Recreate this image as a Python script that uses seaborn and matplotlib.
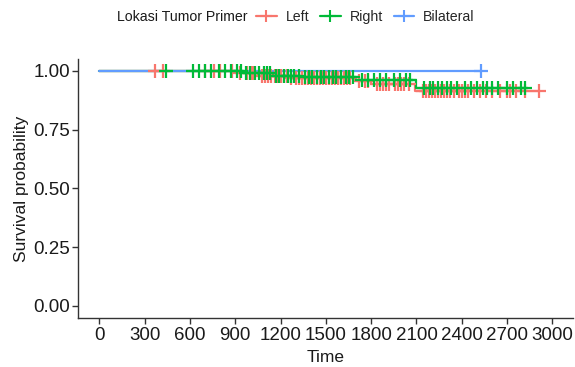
import numpy as np
import pandas as pd
import matplotlib
matplotlib.use("Agg")
import matplotlib.pyplot as plt
from matplotlib.lines import Line2D
import seaborn as sns

# ---- data ----
groups = ["Left", "Right", "Bilateral"]
colors = ["#F8766D", "#00BA38", "#619CFF"]

left_event_times = [900, 1050, 1250, 1690, 1800, 2090]
left_surv = [0.99, 0.98, 0.97, 0.955, 0.945, 0.913]
left_censor = [370, 420, 700, 760, 800, 880, 930, 980, 1010, 1020, 1080, 1100,
               1120, 1140, 1160, 1180, 1200, 1220, 1240, 1270, 1300, 1320, 1340,
               1360, 1380, 1400, 1420, 1440, 1460, 1480, 1500, 1520, 1540, 1560,
               1580, 1600, 1620, 1640, 1660, 1720, 1760, 1780, 1840, 1860, 1880,
               1900, 1920, 1960, 1980, 2000, 2020, 2050, 2140, 2160, 2180, 2200,
               2220, 2240, 2260, 2280, 2300, 2320, 2350, 2380, 2400, 2420, 2440,
               2480, 2520, 2560, 2600, 2650, 2700, 2720, 2760, 2820, 2910]

right_event_times = [950, 1150, 1350, 1720, 2095]
right_surv = [0.99, 0.98, 0.974, 0.96, 0.928]
right_censor = [440, 620, 660, 700, 740, 790, 830, 870, 910, 940, 970, 1000, 1030,
                1060, 1090, 1110, 1130, 1170, 1190, 1220, 1250, 1270, 1290, 1320,
                1360, 1390, 1410, 1440, 1470, 1490, 1520, 1550, 1570, 1600, 1630,
                1650, 1680, 1740, 1780, 1820, 1860, 1900, 1950, 1990, 2030, 2060,
                2150, 2190, 2210, 2240, 2270, 2300, 2330, 2370, 2420, 2460, 2500,
                2540, 2570, 2600, 2640, 2700, 2740, 2790, 2820]

bilateral_event_times = []
bilateral_surv = []
bilateral_censor = [2530]

x_ticks = [0, 300, 600, 900, 1200, 1500, 1800, 2100, 2400, 2700, 3000]
y_ticks = [0.00, 0.25, 0.50, 0.75, 1.00]
legend_title = "Lokasi Tumor Primer"

# ---- build tables ----
series = {
    "Left": (left_event_times, left_surv, left_censor),
    "Right": (right_event_times, right_surv, right_censor),
    "Bilateral": (bilateral_event_times, bilateral_surv, bilateral_censor),
}

def surv_at(t, ev, sv):
    s = 1.0
    for te, v in zip(ev, sv):
        if te <= t:
            s = v
    return s

step_rows = []
cens_rows = []
for g in groups:
    ev, sv, cs = series[g]
    tmax = max(cs + ev)
    step_rows.append((g, 0.0, 1.0))
    for te, v in zip(ev, sv):
        step_rows.append((g, te, v))
    step_rows.append((g, tmax, surv_at(tmax, ev, sv)))
    for c in cs:
        cens_rows.append((g, c, surv_at(c, ev, sv)))

steps = pd.DataFrame(step_rows, columns=["group", "time", "surv"])
cens = pd.DataFrame(cens_rows, columns=["group", "time", "surv"])

# ---- plot ----
sns.set_theme(style="ticks")
plt.rcParams["font.family"] = ["Liberation Sans", "DejaVu Sans"]

fig = plt.figure(figsize=(5.75, 3.67), dpi=100)
ax = fig.add_axes([0.1357, 0.1343, 0.861, 0.7047])
pal = dict(zip(groups, colors))

for g in groups:
    d = steps[steps.group == g]
    sns.lineplot(data=d, x="time", y="surv", ax=ax, color=pal[g],
                 drawstyle="steps-post", estimator=None, sort=False,
                 linewidth=1.6, legend=False)
for g in groups:
    d = cens[cens.group == g]
    sns.scatterplot(data=d, x="time", y="surv", ax=ax, color=pal[g],
                    marker="+", s=95, linewidth=1.6, legend=False, zorder=3)

ax.set_xlim(-141, 3137)
ax.set_ylim(-0.05, 1.05)
ax.set_xticks(x_ticks)
ax.set_xticklabels([str(t) for t in x_ticks])
ax.set_yticks(y_ticks)
ax.set_yticklabels([f"{v:.2f}" for v in y_ticks])
ax.tick_params(axis="both", labelsize=13.5, colors="#333333", labelcolor="#1a1a1a",
               length=4, width=1, direction="out")
ax.tick_params(axis="y", pad=1.5)
ax.tick_params(axis="x", pad=3)
for side in ["top", "right"]:
    ax.spines[side].set_visible(False)
for side in ["left", "bottom"]:
    ax.spines[side].set_color("#333333")
    ax.spines[side].set_linewidth(1.0)
ax.set_xlabel("Time", fontsize=12.5, color="#1a1a1a", labelpad=4)
ax.set_ylabel("Survival probability", fontsize=12.5, color="#1a1a1a", labelpad=3)
ax.grid(False)

# legend
fig.text(117 / 575, 1 - 17 / 367, legend_title, fontsize=10.2, color="#1a1a1a",
         ha="left", va="center")
handles = [Line2D([], [], color=c, lw=1.6, marker="+", markersize=9, mew=1.5)
           for c in colors]
fig.legend(handles, groups, loc="center left",
           bbox_to_anchor=(256 / 575, 1 - 17 / 367), ncol=3, frameon=False,
           fontsize=10.2, handlelength=1.45, handletextpad=0.65,
           columnspacing=0.75, borderpad=0, borderaxespad=0)

fig.savefig("out.png", dpi=100, facecolor="white")
